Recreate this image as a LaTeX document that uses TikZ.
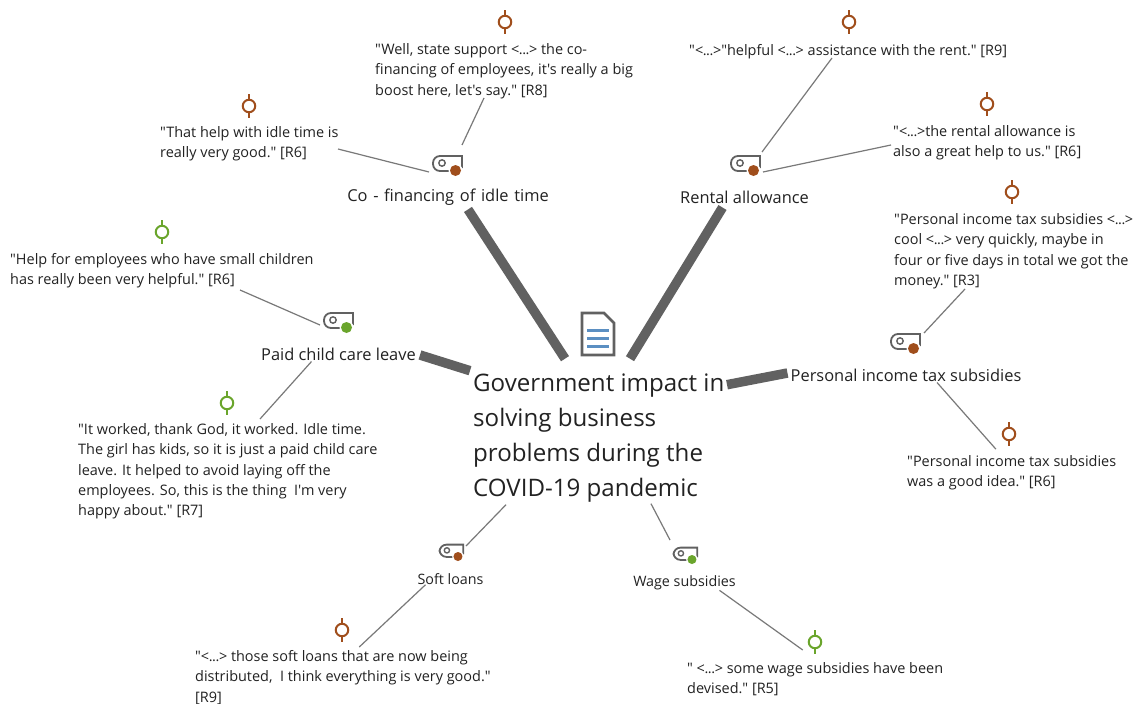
\documentclass[tikz,border=0pt]{standalone}
\usepackage{fontspec}
\setmainfont{Open Sans}[Ligatures=TeXOff]
\usetikzlibrary{calc}
\definecolor{ink}{HTML}{222222}
\definecolor{bar}{HTML}{616161}
\definecolor{rust}{HTML}{A04E1C}
\definecolor{leaf}{HTML}{6AA52C}
\definecolor{docblue}{HTML}{5B8FC2}
\newcommand{\gapmark}{<\kern-.4pt.\kern-.5pt.\kern-.5pt.\kern-.4pt>}
\tikzset{
  quote/.style={anchor=north west,inner sep=0pt,align=left,text=ink,font=\fontsize{14.45}{20.3}\selectfont},
  code/.style={inner sep=0pt,text=ink,font=\fontsize{16.4}{20}\selectfont},
  smallcode/.style={inner sep=0pt,text=ink,font=\fontsize{14.3}{18}\selectfont},
  core/.style={anchor=north west,inner sep=0pt,align=left,text=ink,font=\fontsize{24.1}{35.1}\selectfont},
  thinlink/.style={draw=bar!85,line width=1.2pt},
  thicklink/.style={draw=bar,line width=9.5pt},
  pinring/.style={circle,fill=white,line width=2pt,minimum size=12.5pt,inner sep=0pt},
  tagbox/.style={inner sep=0pt,minimum width=29pt,minimum height=20pt}
}
\newcommand{\pinmark}[4]{%
  \node[pinring,draw=#4] (#1) at (#2,#3) {};
  \draw[#4,line width=1.9pt] (#1.north) -- ++(0,-5);
  \draw[#4,line width=1.9pt] (#1.south) -- ++(0,5);
}
\newcommand{\tagmark}[5]{%
  \node[tagbox,scale=#5] (#1) at (#2,#3) {};
  \begin{scope}[shift={(#2,#3)},scale=#5]
    \draw[bar,line width=1.8pt] (15,3) -- (15,-9) [rounded corners=7pt] -- (-14,-9) -- (-14,6) [sharp corners] -- (3,6);
    \draw[bar,line width=1.4pt] (-5,-2) circle (3.2);
    \fill[white] (8.5,5.5) circle (7);
    \fill[#4] (8.5,5.5) circle (5.5);
  \end{scope}
}
\begin{document}
\begin{tikzpicture}[x=1pt,y=-1pt]
\useasboundingbox (0,0) rectangle (1133,704);
\fill[white] (0,0) rectangle (1133,704);
% document icon
\draw[bar,line width=2.8pt,line join=miter,fill=white] (582,313) -- (604,313) -- (614,323) -- (614,355) -- (582,355) -- cycle;
\draw[docblue,line width=3pt] (587,330) -- (609,330) (587,338) -- (609,338) (587,346) -- (609,346);
% centre
\node[core] (centre) at (473,366.7) {\strut Government impact in\\solving business\\problems during the\\COVID-19 pandemic\strut};
% codes
\node[code] (cofin) at (448,197) {\spaceskip=5.7pt Co - financing of idle time};
\node[code] (rental) at (744.5,197) {Rental allowance};
\node[code] (paid) at (338.5,354) {Paid child care leave};
\node[code] (pit) at (906,375) {Personal income tax subsidies};
\node[smallcode] (soft) at (450.5,579) {Soft loans};
\node[smallcode] (wage) at (684.5,583) {Wage subsidies};
% tags
\tagmark{tcofin}{447}{165}{rust}{1}
\tagmark{trental}{745}{165}{rust}{1}
\tagmark{tpaid}{338}{322}{leaf}{1}
\tagmark{tpit}{905}{343}{rust}{1}
\tagmark{tsoft}{451}{552}{rust}{0.82}
\tagmark{twage}{685}{555}{leaf}{0.82}
% pins
\pinmark{p8}{505}{22}{rust}
\pinmark{p6a}{249}{106}{rust}
\pinmark{p9a}{849}{22}{rust}
\pinmark{p6b}{987}{104}{rust}
\pinmark{p3}{1012}{192}{rust}
\pinmark{p6c}{162}{232}{leaf}
\pinmark{p7}{227}{403}{leaf}
\pinmark{p6d}{1009}{434}{rust}
\pinmark{p9b}{342}{630}{rust}
\pinmark{p5}{815}{642}{leaf}
% quotes
\node[quote] (q8) at (375,40) {\strut"Well, state support \gapmark{} the co-\\financing of employees, it's really a big\\boost here, let's say." [R8]\strut};
\node[quote] (q6a) at (160,123) {\strut"That help with idle time is\\really very good." [R6]\strut};
\node[quote] (q9a) at (689,41) {\strut"\gapmark"helpful \gapmark{} assistance with the rent." [R9]\strut};
\node[quote] (q6b) at (893,122) {\strut"\gapmark the rental allowance is\\also a great help to us." [R6]\strut};
\node[quote] (q3) at (894,210) {\strut"Personal income tax subsidies \gapmark\\cool \gapmark{} very quickly, maybe in\\four or five days in total we got the\\money." [R3]\strut};
\node[quote] (q6c) at (10,250) {\strut"Help for employees who have small children\\has really been very helpful." [R6]\strut};
\node[quote] (q7) at (78,420) {\strut"It worked, thank God, it worked. Idle time.\\The girl has kids, so it is just a paid child care\\leave. It helped to avoid laying off the\\employees. So, this is the thing\ \ I'm very\\happy about." [R7]\strut};
\node[quote] (q6d) at (907,452) {\strut"Personal income tax subsidies\\was a good idea." [R6]\strut};
\node[quote] (q9b) at (195,647) {\strut"\gapmark{} those soft loans that are now being\\distributed,\ \ I think everything is very good."\\{}[R9]\strut};
\node[quote] (q5) at (687,659) {\strut" \gapmark{} some wage subsidies have been\\devised." [R5]\strut};
% thick connectors
\draw[thicklink] ($(centre.north west)+(92,-8)$) -- ($(cofin.south)+(20,4)$);
\draw[thicklink] ($(centre.north west)+(157,-8)$) -- ($(rental.south)+(-22,4)$);
\draw[thicklink] ($(centre.north west)+(-3,4)$) -- ($(paid.east)+(4,1)$);
\draw[thicklink] ($(centre.north west)+(254,18)$) -- ($(pit.west)+(-3,-2)$);
% thin connectors
\draw[thinlink] ($(q8.north west)+(109,58)$) -- ($(tcofin)+(15,-20)$);
\draw[thinlink] ($(q6a.north west)+(178,26)$) -- ($(tcofin)+(-18,7)$);
\draw[thinlink] ($(q9a.north west)+(143,17)$) -- ($(trental)+(17,-13)$);
\draw[thinlink] ($(q6b.north west)+(-2,23)$) -- ($(trental)+(18,7)$);
\draw[thinlink] ($(q3.north west)+(71,79)$) -- ($(tpit)+(19,-10)$);
\draw[thinlink] ($(pit.south)+(31,1)$) -- ($(p6d.south west)+(-8,10)$);
\draw[thinlink] ($(q6c.north west)+(230,40)$) -- ($(tpaid)+(-18,3)$);
\draw[thinlink] ($(paid.south)+(-27,1)$) -- ($(q7.north west)+(182,-1)$);
\draw[thinlink] ($(centre.north west)+(33,138)$) -- ($(tsoft)+(15,-6)$);
\draw[thinlink] ($(soft.south)+(-25,0)$) -- ($(p9b.east)+(10,17)$);
\draw[thinlink] ($(centre.north west)+(178,137)$) -- ($(twage)+(-15,-15)$);
\draw[thinlink] ($(wage.south)+(35,0)$) -- ($(p5.west)+(-5,8)$);
\end{tikzpicture}
\end{document}
